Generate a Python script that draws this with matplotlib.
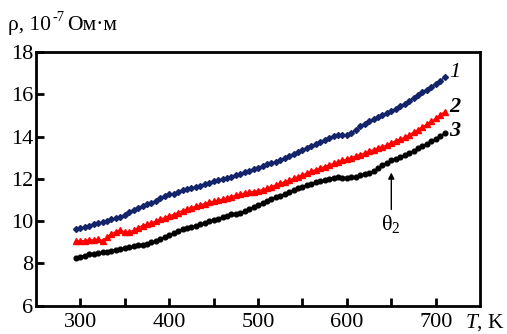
import matplotlib
matplotlib.use("Agg")
import matplotlib.pyplot as plt

plt.rcParams['font.family'] = ['Liberation Serif', 'DejaVu Serif']
plt.rcParams['mathtext.fontset'] = 'custom'
plt.rcParams['mathtext.rm'] = 'Liberation Serif'
plt.rcParams['mathtext.it'] = 'Liberation Serif:italic'

T = list(range(295, 711, 5))

rho1 = [9.61, 9.66, 9.72, 9.78, 9.84, 9.90, 9.96, 10.02, 10.08, 10.13,
        10.18, 10.30, 10.42, 10.52, 10.62, 10.72, 10.80, 10.87, 10.95, 11.08,
        11.20, 11.26, 11.30, 11.37, 11.45, 11.51, 11.56, 11.62, 11.68, 11.75,
        11.82, 11.88, 11.93, 11.98, 12.03, 12.10, 12.17, 12.24, 12.31, 12.38,
        12.45, 12.52, 12.60, 12.68, 12.74, 12.82, 12.90, 12.99, 13.08, 13.17,
        13.27, 13.37, 13.46, 13.55, 13.65, 13.74, 13.83, 13.92, 14.02, 14.08,
        14.06, 14.08, 14.18, 14.31, 14.48, 14.62, 14.72, 14.84, 14.94, 15.03,
        15.12, 15.22, 15.32, 15.43, 15.55, 15.68, 15.82, 15.96, 16.10, 16.22,
        16.36, 16.50, 16.64, 16.80]

rho2 = [9.06, 9.07, 9.08, 9.10, 9.12, 9.14, 9.08, 9.25, 9.40, 9.50,
        9.58, 9.47, 9.50, 9.56, 9.68, 9.79, 9.85, 9.92, 10.00, 10.08,
        10.17, 10.25, 10.31, 10.40, 10.50, 10.58, 10.64, 10.70, 10.76, 10.83,
        10.89, 10.94, 10.99, 11.04, 11.09, 11.16, 11.22, 11.28, 11.33, 11.37,
        11.40, 11.44, 11.49, 11.55, 11.63, 11.71, 11.79, 11.86, 11.93, 12.02,
        12.10, 12.18, 12.27, 12.35, 12.43, 12.51, 12.58, 12.65, 12.73, 12.80,
        12.87, 12.93, 13.00, 13.08, 13.15, 13.22, 13.30, 13.38, 13.46, 13.53,
        13.60, 13.70, 13.80, 13.88, 13.97, 14.08, 14.20, 14.32, 14.45, 14.58,
        14.72, 14.86, 15.02, 15.18]

rho3 = [8.25, 8.32, 8.37, 8.42, 8.46, 8.50, 8.53, 8.56, 8.60, 8.64,
        8.68, 8.72, 8.76, 8.80, 8.85, 8.89, 8.94, 8.99, 9.05, 9.14,
        9.27, 9.36, 9.43, 9.52, 9.62, 9.68, 9.72, 9.77, 9.84, 9.92,
        9.99, 10.06, 10.12, 10.18, 10.25, 10.32, 10.36, 10.40, 10.47, 10.58,
        10.68, 10.76, 10.85, 10.95, 11.04, 11.12, 11.19, 11.27, 11.36, 11.46,
        11.55, 11.63, 11.71, 11.78, 11.84, 11.89, 11.94, 11.99, 12.06, 12.10,
        12.05, 12.03, 12.07, 12.11, 12.17, 12.24, 12.30, 12.37, 12.50, 12.64,
        12.76, 12.88, 12.95, 13.03, 13.11, 13.22, 13.33, 13.44, 13.55, 13.66,
        13.78, 13.90, 14.03, 14.16]

curve_labels = ['1', '2', '3']
theta_T = 650

fig = plt.figure(figsize=(5.07, 3.34), dpi=100)
ax = fig.add_axes([0.071, 0.085, 0.876, 0.759])

ax.plot(T, rho1, color='#14246b', marker='D', markersize=3.0, linewidth=1.0)
ax.plot(T, rho2, color='#ff0000', marker='^', markersize=3.8, linewidth=1.0)
ax.plot(T, rho3, color='#000000', marker='o', markersize=3.4, linewidth=1.0)

ax.set_xlim(250, 750)
ax.set_ylim(6, 18)
ax.set_xticks([300, 350, 400, 450, 500, 550, 600, 650, 700])
ax.set_xticklabels(['300', '', '400', '', '500', '', '600', '', '700'])
ax.set_yticks([6, 8, 10, 12, 14, 16, 18])
ax.tick_params(direction='in', length=6, width=2, labelsize=16)
ax.tick_params(axis='x', pad=5)
ax.tick_params(axis='y', pad=2)
for s in ax.spines.values():
    s.set_linewidth(2)

# curve numbers
ax.text(715, 17.05, curve_labels[0], fontsize=16, style='italic', va='center', ha='left')
ax.text(715, 15.40, curve_labels[1], fontsize=16, style='italic', weight='bold', va='center', ha='left')
ax.text(715, 14.25, curve_labels[2], fontsize=16, style='italic', weight='bold', va='center', ha='left')

# theta_2 arrow
ax.annotate('', xy=(theta_T, 12.3), xytext=(theta_T, 10.55),
            arrowprops=dict(arrowstyle='-|>', color='black', lw=1.0,
                            mutation_scale=9, shrinkA=0, shrinkB=0))
ax.text(theta_T, 9.85, r'θ$_{\mathregular{2}}$', fontsize=16, ha='center', va='center')

# y-axis label built from pieces (short hyphen in exponent)
renderer = fig.canvas.get_renderer()
t1 = fig.text(0.016, 0.925, 'ρ, 10', fontsize=15.5, ha='left', va='center')
bb = t1.get_window_extent(renderer)
x2 = (bb.x1 + 1) / fig.bbox.width
t2 = fig.text(x2, 0.925 + 8 / fig.bbox.height, '-7', fontsize=10.5, ha='left', va='center')
bb2 = t2.get_window_extent(renderer)
x3 = (bb2.x1 + 3) / fig.bbox.width
fig.text(x3, 0.925, 'Ом·м', fontsize=15.5, ha='left', va='center')

fig.text(0.918, 0.035, r'$T$, K', fontsize=15.5, ha='left', va='center')

fig.savefig('out.png', dpi=100)
